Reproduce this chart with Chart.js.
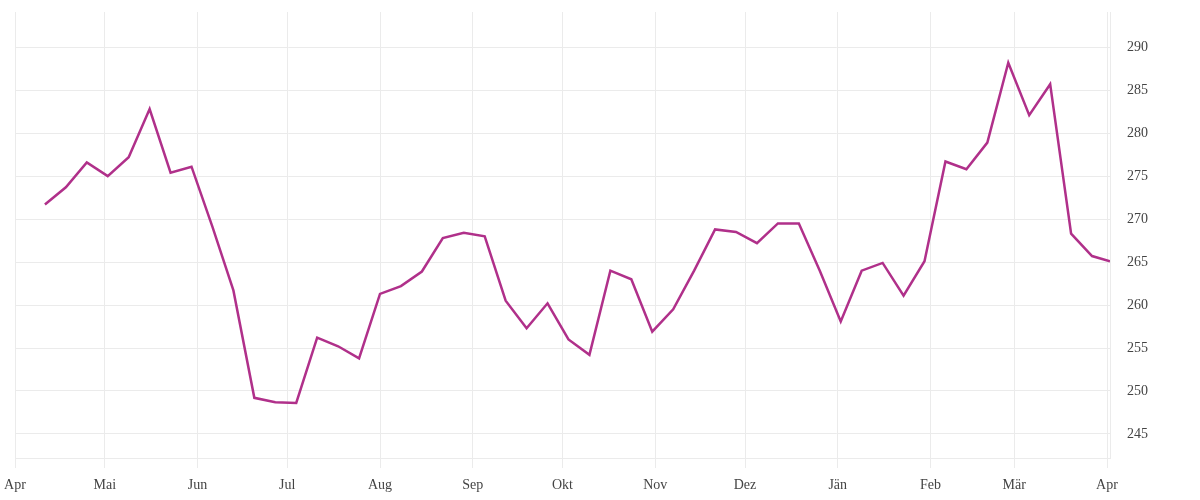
<!DOCTYPE html>
<html lang="de">
<head>
  <meta charset="UTF-8">
  <title>Wochenverlauf</title>
  <script src="https://cdn.jsdelivr.net/npm/chart.js"></script>
  <style>
    html, body { margin: 0; padding: 0; background: #fff; }
    .wrap { width: 1200px; height: 500px; }
  </style>
</head>
<body>
<div class="wrap"><canvas id="chart"></canvas></div>

<script>
// weekly observations
const dates = [
  '2022-04-11','2022-04-18','2022-04-25','2022-05-02','2022-05-09','2022-05-16','2022-05-23','2022-05-30',
  '2022-06-06','2022-06-13','2022-06-20','2022-06-27','2022-07-04','2022-07-11','2022-07-18','2022-07-25',
  '2022-08-01','2022-08-08','2022-08-15','2022-08-22','2022-08-29','2022-09-05','2022-09-12','2022-09-19',
  '2022-09-26','2022-10-03','2022-10-10','2022-10-17','2022-10-24','2022-10-31','2022-11-07','2022-11-14',
  '2022-11-21','2022-11-28','2022-12-05','2022-12-12','2022-12-19','2022-12-26','2023-01-02','2023-01-09',
  '2023-01-16','2023-01-23','2023-01-30','2023-02-06','2023-02-13','2023-02-20','2023-02-27','2023-03-06',
  '2023-03-13','2023-03-20','2023-03-27','2023-04-02'
];
const values = [
  271.7, 273.7, 276.6, 275.0, 277.2, 282.8, 275.4, 276.1,
  269.1, 261.7, 249.2, 248.7, 248.6, 256.2, 255.2, 253.8,
  261.3, 262.2, 263.9, 267.8, 268.4, 268.0, 260.5, 257.3,
  260.2, 256.0, 254.2, 264.0, 263.0, 256.9, 259.5, 264.0,
  268.8, 268.5, 267.2, 269.5, 269.5, 264.0, 258.1, 264.0,
  264.9, 261.1, 265.1, 276.7, 275.8, 278.9, 288.2, 282.1,
  285.7, 268.3, 265.7, 265.1
];

// month ticks
const monthStarts = [
  '2022-04-01','2022-05-01','2022-06-01','2022-07-01','2022-08-01','2022-09-01','2022-10-01',
  '2022-11-01','2022-12-01','2023-01-01','2023-02-01','2023-03-01','2023-04-01'
];
const monthLabels = ['Apr','Mai','Jun','Jul','Aug','Sep','Okt','Nov','Dez','Jän','Feb','Mär','Apr'];
const yTicks = [245, 250, 255, 260, 265, 270, 275, 280, 285, 290];

const DAY = 86400000;
const origin = Date.parse(monthStarts[0] + 'T00:00:00Z');
const dayOf = d => (Date.parse(d + 'T00:00:00Z') - origin) / DAY;

const points = dates.map((d, i) => ({ x: dayOf(d), y: values[i] }));
const tickDays = monthStarts.map(dayOf);

const gridColor = '#ebebeb';
const textFont = { family: "'Liberation Serif', serif", size: 14 };

new Chart(document.getElementById('chart'), {
  type: 'line',
  data: {
    datasets: [{
      data: points,
      borderColor: '#b0308a',
      borderWidth: 2.5,
      pointRadius: 0,
      tension: 0,
      fill: false
    }]
  },
  options: {
    responsive: true,
    maintainAspectRatio: false,
    animation: false,
    layout: { padding: { top: 12, left: 15, right: 0, bottom: 0 } },
    plugins: { legend: { display: false }, tooltip: { enabled: false } },
    scales: {
      x: {
        type: 'linear',
        min: 0,
        max: 366,
        afterBuildTicks: s => { s.ticks = tickDays.map(v => ({ value: v })); },
        afterFit: s => { s.height = 42; s.paddingLeft = 0; s.paddingRight = 0; },
        ticks: {
          autoSkip: false,
          maxRotation: 0,
          padding: 9,
          color: '#444',
          font: textFont,
          callback: v => monthLabels[tickDays.indexOf(v)]
        },
        grid: { color: gridColor, tickLength: 10, tickColor: gridColor },
        border: { color: gridColor }
      },
      y: {
        position: 'right',
        min: 242.2,
        max: 294.1,
        afterBuildTicks: s => { s.ticks = yTicks.map(v => ({ value: v })); },
        afterFit: s => { s.width = 90; s.paddingTop = 0; s.paddingBottom = 0; },
        ticks: { padding: 17, color: '#444', font: textFont },
        grid: { color: gridColor, drawTicks: false },
        border: { color: gridColor }
      }
    }
  }
});
</script>
</body>
</html>
